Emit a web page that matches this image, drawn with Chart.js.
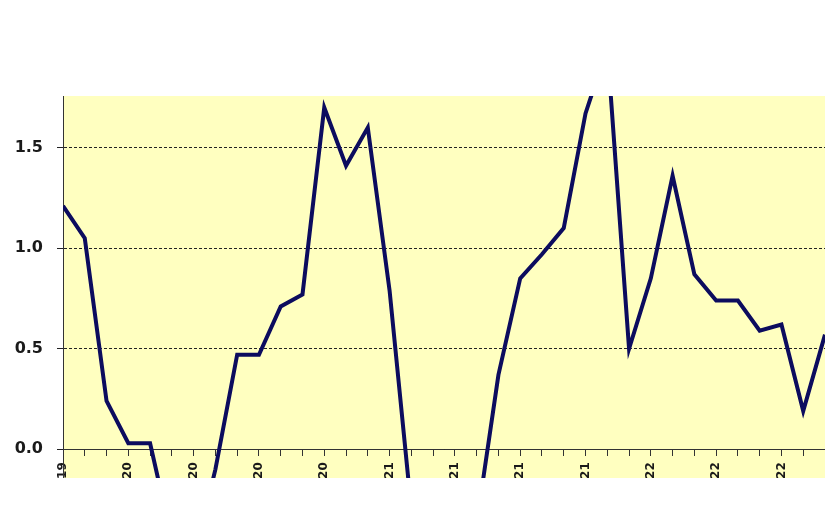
<!DOCTYPE html>
<html>
<head>
<meta charset="utf-8">
<script src="https://cdn.jsdelivr.net/npm/chart.js@4"></script>
<style>
  html, body { margin: 0; padding: 0; background: #ffffff; }
  #wrap { width: 825px; height: 478px; position: relative; overflow: hidden; }
  canvas { display: block; }
</style>
</head>
<body>
<div id="wrap"><canvas id="c" width="825" height="503"></canvas></div>
<script>
const months = ['Nov-19','Dec-19','Jan-20','Feb-20','Mar-20','Apr-20','May-20','Jun-20','Jul-20','Aug-20','Sep-20','Oct-20',
                'Nov-20','Dec-20','Jan-21','Feb-21','Mar-21','Apr-21','May-21','Jun-21','Jul-21','Aug-21','Sep-21','Oct-21',
                'Nov-21','Dec-21','Jan-22','Feb-22','Mar-22','Apr-22','May-22','Jun-22','Jul-22','Aug-22','Sep-22','Oct-22'];
const values = [1.21, 1.05, 0.24, 0.03, 0.03, -0.45, -0.55, -0.10, 0.47, 0.47, 0.71, 0.77,
                1.70, 1.41, 1.60, 0.79, -0.30, -0.50, -0.60, -0.37, 0.37, 0.85, 0.97, 1.10,
                1.67, 2.00, 0.50, 0.85, 1.36, 0.87, 0.74, 0.74, 0.59, 0.62, 0.19, 0.57];
const yTickValues = [0, 0.5, 1.0, 1.5];
const labelEvery = 3;

const bgPlugin = {
  id: 'plotBg',
  beforeDraw(chart) {
    const {ctx, chartArea: a} = chart;
    ctx.save();
    ctx.fillStyle = '#ffffc0';
    ctx.fillRect(a.left, a.top, a.right - a.left, a.bottom - a.top);
    ctx.restore();
  }
};

new Chart(document.getElementById('c'), {
  type: 'line',
  data: {
    labels: months,
    datasets: [{
      data: values,
      borderColor: '#0c0c5e',
      borderWidth: 4,
      pointRadius: 0,
      tension: 0,
      fill: false,
      clip: 0
    }]
  },
  options: {
    responsive: false,
    animation: false,
    layout: { padding: { top: 96, right: 0, bottom: 0, left: 0 } },
    plugins: { legend: { display: false }, tooltip: { enabled: false } },
    scales: {
      x: {
        type: 'category',
        offset: false,
        position: { y: 0 },
        afterFit(scale) { scale.height = 0; scale.paddingLeft = 0; scale.paddingRight = 0; },
        grid: { drawOnChartArea: false, drawTicks: true, tickLength: 6, tickColor: '#333333', tickWidth: 1 },
        border: { display: true, color: '#333333', width: 1 },
        ticks: {
          autoSkip: false,
          minRotation: 90,
          maxRotation: 90,
          padding: 7,
          color: '#1a1a1a',
          font: { family: 'DejaVu Sans', size: 12, weight: 'bold' },
          callback: function(v, i) { return i % labelEvery === 0 ? this.getLabelForValue(v) : ''; }
        }
      },
      y: {
        min: -0.15,
        max: 1.757,
        afterBuildTicks(scale) { scale.ticks = yTickValues.map(v => ({ value: v })); },
        afterFit(scale) { scale.width = 63; },
        grid: { color: '#222222', lineWidth: 1, tickLength: 6, tickColor: '#222222' },
        border: { display: true, color: '#333333', width: 1, dash: [3, 2] },
        ticks: {
          padding: 14,
          color: '#1a1a1a',
          font: { family: 'DejaVu Sans', size: 16, weight: 'bold' },
          callback: v => Number(v).toFixed(1)
        }
      }
    }
  },
  plugins: [bgPlugin]
});
</script>
</body>
</html>
